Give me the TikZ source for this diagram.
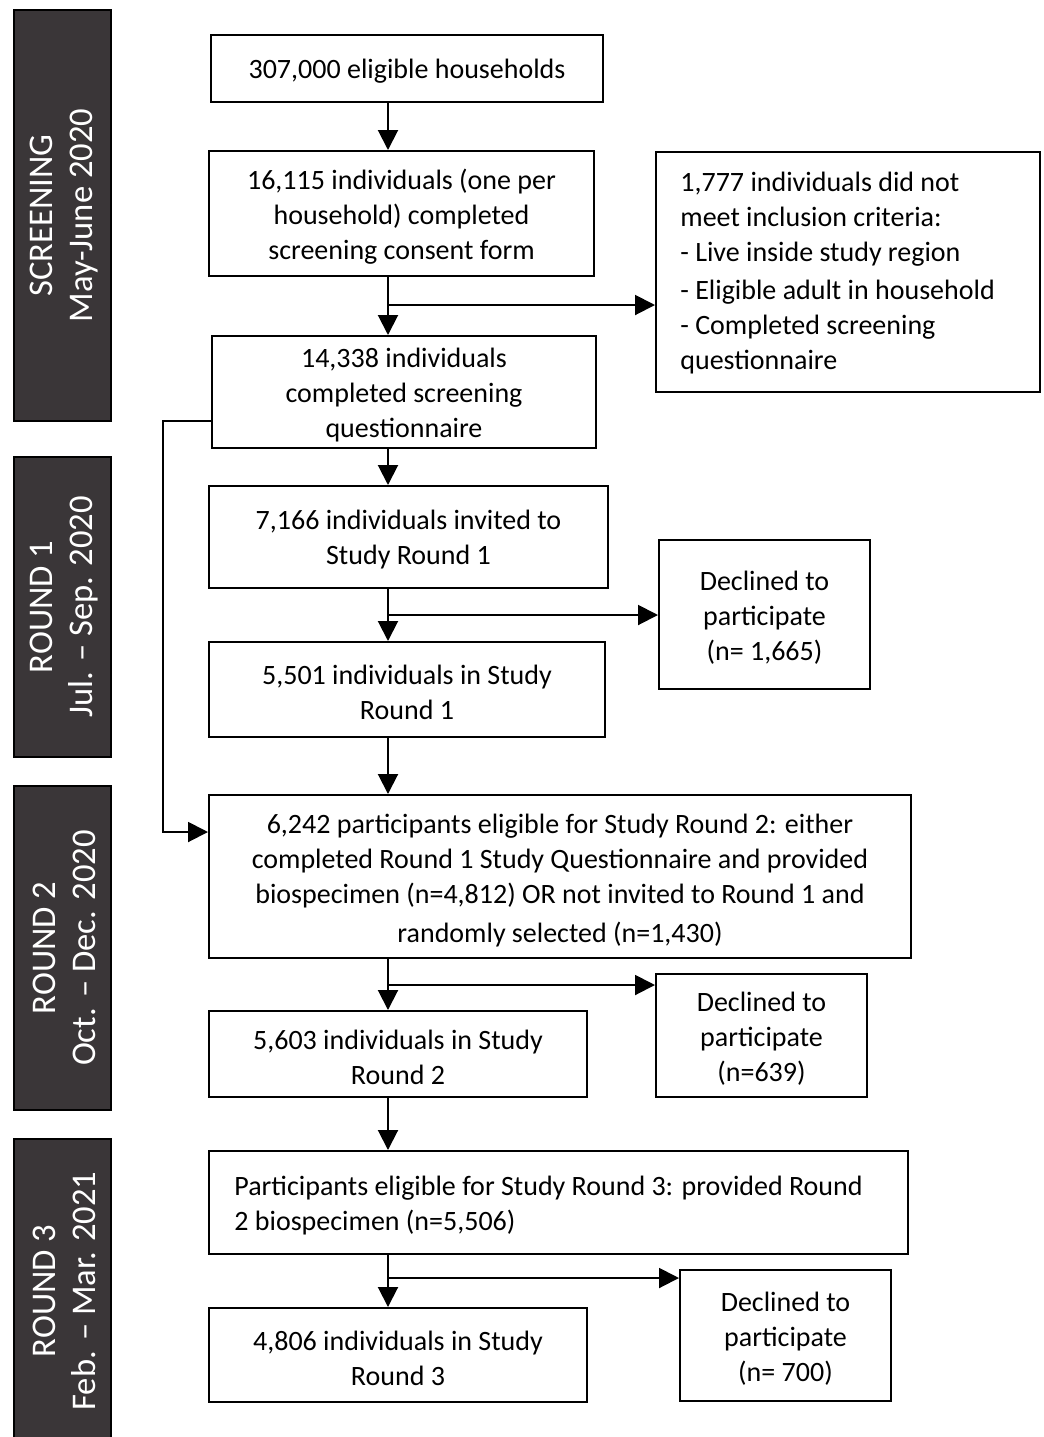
\documentclass[tikz,border=0pt]{standalone}
\usepackage{fontspec}
\setmainfont{Carlito}
\usetikzlibrary{arrows.meta}
\definecolor{barcol}{HTML}{3A3638}
\begin{document}
\begin{tikzpicture}[x=0.5pt,y=-0.5pt,
  box/.style={draw=black,line width=1pt,inner sep=0pt},
  txt/.style={inner sep=0pt,align=center,font=\fontsize{14}{17.5}\selectfont},
  bar/.style={draw=black,line width=0.8pt,fill=barcol,inner sep=0pt},
  bartext/.style={text=white,rotate=90,align=center,
    font=\fontsize{17.3}{20}\selectfont},
  arr/.style={line width=1pt,-{Triangle[length=10pt,width=10pt]}}]
\useasboundingbox (0,0) rectangle (1044,1437);
% side bars
\node[bar,minimum width=48.5pt,minimum height=205.5pt] (s0) at (62.5,215.5) {};
\node[bartext] (s0t) at ([xshift=1pt]s0.center) {SCREENING\\May-June 2020};
\node[bar,minimum width=48.5pt,minimum height=150pt] (s1) at (62.5,607) {};
\node[bartext] (s1t) at ([xshift=1pt]s1.center) {ROUND 1\\Jul. -- Sep. 2020};
\node[bar,minimum width=48.5pt,minimum height=162pt] (s2) at (62.5,948) {};
\node[bartext] (s2t) at ([xshift=1pt]s2.center) {ROUND 2\\Oct. -- Dec. 2020};
\node[bar,minimum width=48.5pt,minimum height=152pt] (s3) at (62.5,1291) {};
\node[bartext] (s3t) at ([xshift=1pt]s3.center) {ROUND 3\\Feb. -- Mar. 2021};
% boxes
\node[box,minimum width=196pt,minimum height=33.5pt] (b1) at (407,68.5) {};
\node[txt] (b1t) at ([yshift=-1.5pt]b1.center) {307,000 eligible households};
\node[box,minimum width=192.5pt,minimum height=62.5pt] (b2) at (401.5,213.5) {};
\node[txt] (b2t) at ([yshift=-1.5pt]b2.center) {16,115 individuals (one per\\household) completed\\screening consent form};
\node[box,minimum width=192pt,minimum height=120pt] (b3) at (848,272) {};
\node[txt,align=left,anchor=west] (b3t) at (680,273.5) {1,777 individuals did not\\meet inclusion criteria:\\- Live inside study region\\[1.5pt]- Eligible adult in household\\- Completed screening\\questionnaire};
\node[box,minimum width=192pt,minimum height=56pt] (b4) at (404,392) {};
\node[txt] (b4t) at ([yshift=-1.5pt]b4.center) {14,338 individuals\\completed screening\\questionnaire};
\node[box,minimum width=199.5pt,minimum height=51pt] (b5) at (408.5,537) {};
\node[txt] (b5t) at ([yshift=-1.5pt]b5.center) {7,166 individuals invited to\\Study Round 1};
\node[box,minimum width=105.5pt,minimum height=74.5pt] (b6) at (764.5,614.5) {};
\node[txt] (b6t) at ([yshift=-1.5pt]b6.center) {Declined to\\participate\\(n= 1,665)};
\node[box,minimum width=198pt,minimum height=47.5pt] (b7) at (407,689.5) {};
\node[txt] (b7t) at ([yshift=-1.5pt]b7.center) {5,501 individuals in Study\\Round 1};
\node[box,minimum width=351pt,minimum height=81.5pt] (b8) at (560,876.5) {};
\node[txt] (b8t) at ([yshift=-2pt]b8.center) {6,242 participants eligible for Study Round 2: either\\completed Round 1 Study Questionnaire and provided\\biospecimen (n=4,812) OR not invited to Round 1 and\\[2pt]randomly selected (n=1,430)};
\node[box,minimum width=105.5pt,minimum height=61.5pt] (b9) at (761.5,1035.5) {};
\node[txt] (b9t) at ([yshift=-1.5pt]b9.center) {Declined to\\participate\\(n=639)};
\node[box,minimum width=189pt,minimum height=43pt] (b10) at (398,1054) {};
\node[txt] (b10t) at ([yshift=-1.5pt]b10.center) {5,603 individuals in Study\\Round 2};
\node[box,minimum width=349.5pt,minimum height=51.5pt] (b11) at (558.5,1202.5) {};
\node[txt,align=left,anchor=west] (b11t) at (234,1206) {Participants eligible for Study Round 3: provided Round\\2 biospecimen (n=5,506)};
\node[box,minimum width=105.5pt,minimum height=65.5pt] (b12) at (785.5,1335.5) {};
\node[txt] (b12t) at ([yshift=-1.5pt]b12.center) {Declined to\\participate\\(n= 700)};
\node[box,minimum width=189pt,minimum height=47pt] (b13) at (398,1355) {};
\node[txt] (b13t) at ([yshift=-1.5pt]b13.center) {4,806 individuals in Study\\Round 3};
% trunk
\coordinate (tx) at (388,0);
\draw[arr] (tx |- b1.south) -- (tx |- b2.north);
\draw[arr] (tx |- b2.south) -- (tx |- b4.north);
\draw[arr] (tx |- b4.south) -- (tx |- b5.north);
\draw[arr] (tx |- b5.south) -- (tx |- b7.north);
\draw[arr] (tx |- b7.south) -- (tx |- b8.north);
\draw[arr] (tx |- b8.south) -- (tx |- b10.north);
\draw[arr] (tx |- b10.south) -- (tx |- b11.north);
\draw[arr] (tx |- b11.south) -- (tx |- b13.north);
% branches
\coordinate (j1) at (388,305);
\coordinate (j2) at (388,615);
\coordinate (j3) at (388,985);
\coordinate (j4) at (388,1278);
\draw[arr] (j1) -- (j1 -| b3.west);
\draw[arr] (j2) -- (j2 -| b6.west);
\draw[arr] (j3) -- (j3 -| b9.west);
\draw[arr] (j4) -- (j4 -| b12.west);
% left bypass
\coordinate (k1) at (163,421);
\coordinate (k2) at (163,832);
\draw[arr] (k1 -| b4.west) -- (k1) -- (k2) -- (k2 -| b8.west);
\end{tikzpicture}
\end{document}
